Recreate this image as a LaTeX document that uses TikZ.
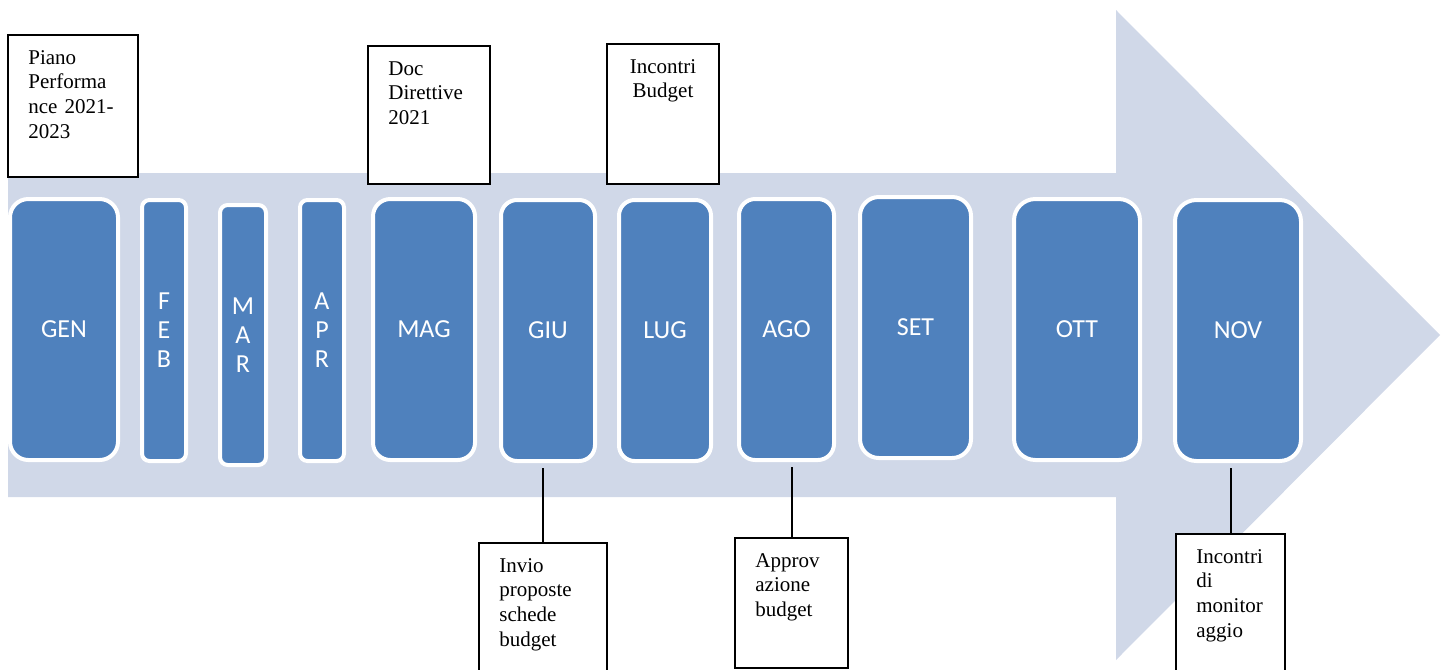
\documentclass[tikz,border=0pt]{standalone}
\usepackage{fontspec}
\setmainfont{Liberation Serif}
\newfontfamily\monthfont{Carlito}
\definecolor{arrowbg}{HTML}{D0D8E8}
\definecolor{monthblue}{HTML}{4F81BD}

\begin{document}
\begin{tikzpicture}[x=0.5pt,y=-0.5pt]
        \clip (0,0) rectangle (1442,670);
        \fill[arrowbg] (8,173) -- (1116,173) -- (1116,10) -- (1440,335) -- (1116,660) -- (1116,497) -- (8,497) -- cycle;

        \begin{scope}
            \tikzstyle{every node}=[draw=white,line width=2pt,fill=monthblue,text=white,inner sep=0pt,align=center,
            font=\monthfont\fontsize{13}{14.5}\selectfont]

            \foreach \x/\cx/\cy/\bw/\bh/\lab in {1/64/329.5/108/261/GEN, 2/164/330.5/44/261/{F\\E\\B},
                3/243/335/46/260/{M\\A\\R}, 4/322/330.5/44/261/{A\\P\\R}, 5/424/329.5/102/261/MAG,
                6/548/330.5/94/261/GIU, 7/665/330.5/92/261/LUG, 8/786.5/329.5/95/261/AGO,
                9/915.5/327.5/111/261/SET, 10/1077/329.5/126/261/OTT, 11/1238/330.5/126/261/NOV} {
                \pgfmathsetmacro{\rad}{0.085*\bw}
                \node[rounded corners=\rad pt,minimum width=\bw*0.5pt,minimum height=\bh*0.5pt] (m_\x) at (\cx,\cy) {\lab};
            }
        \end{scope}

        \begin{scope}
            \tikzstyle{every node}=[inner sep=0pt,font=\fontsize{10.5}{12.4}\selectfont]

            \foreach \x/\cx/\cy/\bw/\bh in {1/73/106/130/142, 2/429/115/122/138, 3/663/114/112/140,
                4/543/611.5/128/137, 5/791.5/603/113/130, 6/1230.5/607/109/146} {
                \node[draw,line width=1pt,fill=white,minimum width=\bw*0.5pt,minimum height=\bh*0.5pt] (c_\x) at (\cx,\cy) {};
            }

            \node[anchor=base west,text width=45pt,align=left] (t_1) at ([xshift=10.5pt,yshift=-15pt]c_1.north west) {Piano\\Performa\\nce 2021-\\2023};
            \node[anchor=base west,text width=45pt,align=left] (t_2) at ([xshift=10.5pt,yshift=-15pt]c_2.north west) {Doc\\Direttive\\2021};
            \node[anchor=base,text width=45pt,align=center] (t_3) at ([yshift=-15pt]c_3.north) {Incontri\\Budget};
            \node[anchor=base west,text width=45pt,align=left] (t_4) at ([xshift=10.5pt,yshift=-15pt]c_4.north west) {Invio\\proposte\\schede\\budget};
            \node[anchor=base west,text width=45pt,align=left] (t_5) at ([xshift=10.5pt,yshift=-15pt]c_5.north west) {Approv\\azione\\budget};
            \node[anchor=base west,text width=45pt,align=left] (t_6) at ([xshift=10.5pt,yshift=-15pt]c_6.north west) {Incontri\\di\\monitor\\aggio};
        \end{scope}

        \draw[line width=1pt,shorten >=2.5pt] (c_4.north) -- (c_4.north |- m_6.south);
        \draw[line width=1pt,shorten >=2.5pt] (c_5.north) -- (c_5.north |- m_8.south);
        \draw[line width=1pt,shorten >=2.5pt] (c_6.north) -- (c_6.north |- m_11.south);

    \end{tikzpicture}
\end{document}
